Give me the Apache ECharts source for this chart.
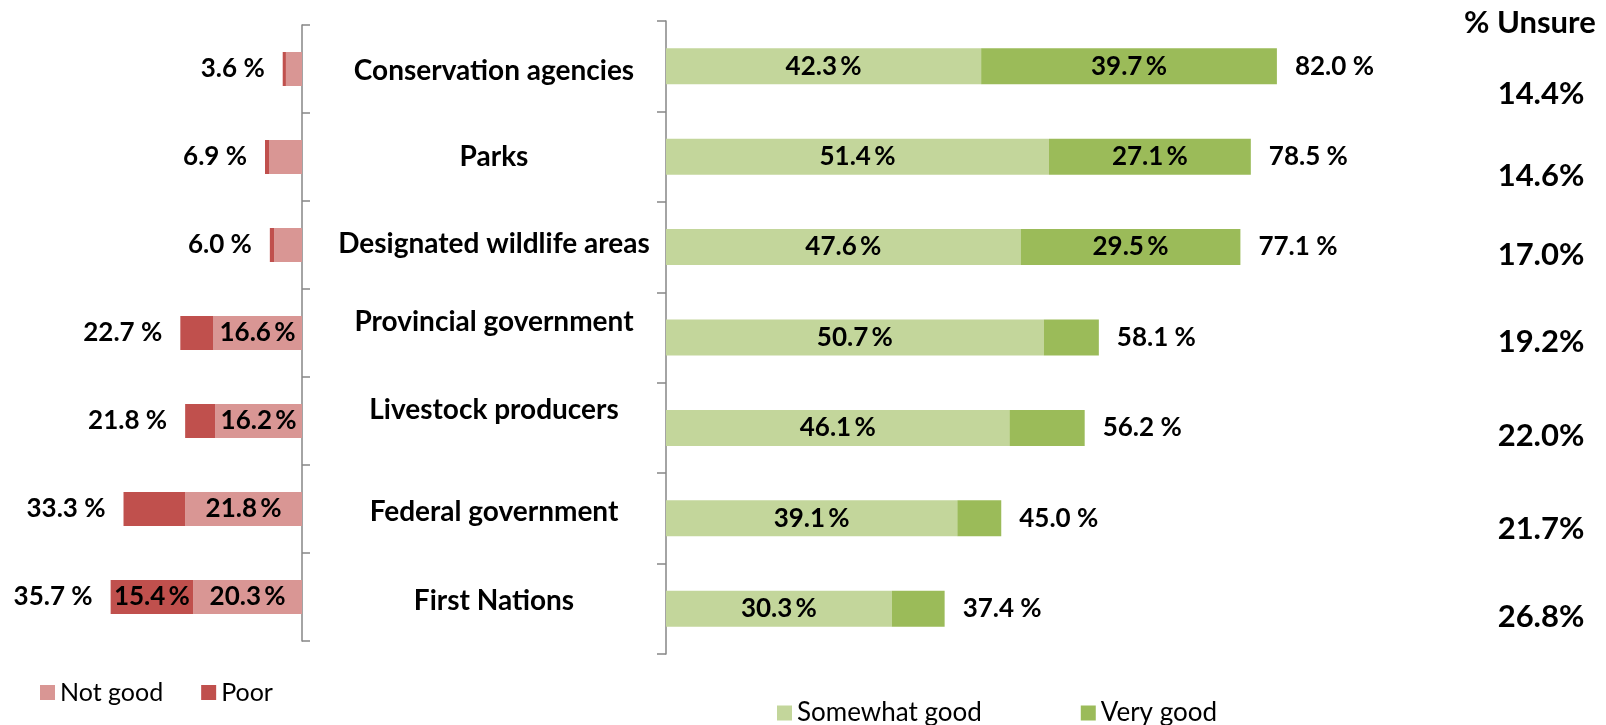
<!DOCTYPE html>
<html><head><meta charset="utf-8">
<script src="https://cdn.jsdelivr.net/npm/echarts@6/dist/echarts.min.js"></script>
<style>html,body{margin:0;padding:0;background:#fff}#c{width:1606px;height:725px}</style>
</head><body><div id="c"></div>
<script>
// ---- data ----
const categories = ['Conservation agencies','Parks','Designated wildlife areas','Provincial government','Livestock producers','Federal government','First Nations'];
const notGood = [3.0, 6.1, 5.2, 16.6, 16.2, 21.8, 20.3];
const poor = [0.6, 0.8, 0.8, 6.1, 5.6, 11.5, 15.4];
const negativeTotal = [3.6, 6.9, 6.0, 22.7, 21.8, 33.3, 35.7];
const somewhatGood = [42.3, 51.4, 47.6, 50.7, 46.1, 39.1, 30.3];
const veryGood = [39.7, 27.1, 29.5, 7.4, 10.1, 5.9, 7.1];
const positiveTotal = [82.0, 78.5, 77.1, 58.1, 56.2, 45.0, 37.4];
const unsure = [14.4, 14.6, 17.0, 19.2, 22.0, 21.7, 26.8];
const unsureHeader = '% Unsure';

// ---- styling ----
const FONT = 'Lato';
const AXIS_COLOR = '#868686';
const labelShift = [5, 0, -3, -16, -18, -6, -8];   // visual nudges of category names
const unsureShift = [0, -5, -13, -13, -6, 0, 1];
const inner = v => v.toFixed(1) + '\u2009%';
const outer = v => v.toFixed(1) + ' %';
const lblBase = {fontFamily: FONT, fontWeight: 'bold', fontSize: 26, color: '#000', textBorderWidth: 0};

const chart = echarts.init(document.getElementById('c'), null, {renderer: 'canvas'});

const catRich = {};
labelShift.forEach((s, i) => {
  catRich['c' + i] = {
    fontFamily: FONT, fontWeight: 'bold', fontSize: 28, color: '#000',
    width: 320, align: 'center',
    padding: s > 0 ? [2 * s, 0, 0, 0] : [0, 0, -2 * s, 0]
  };
});

const option = {
  animation: false,
  backgroundColor: '#fff',
  title: {
    text: unsureHeader, left: 1459, top: 2,
    textStyle: {fontFamily: FONT, fontWeight: 'bold', fontSize: 31, color: '#000'}
  },
  legend: [
    {data: ['Not good', 'Poor'], left: 35, top: 675, icon: 'rect', itemWidth: 15, itemHeight: 15, itemGap: 38,
     textStyle: {fontFamily: FONT, fontSize: 25, color: '#000'}},
    {data: ['Somewhat good', 'Very good'], left: 772, top: 695, icon: 'rect', itemWidth: 15, itemHeight: 15, itemGap: 99,
     textStyle: {fontFamily: FONT, fontSize: 26, color: '#000'}}
  ],
  grid: [
    {left: 34, width: 268, top: 25, height: 616},
    {left: 666, width: 745, top: 21, height: 633},
    {left: 1531, width: 20, top: 50, height: 610}
  ],
  xAxis: [
    {gridIndex: 0, type: 'value', min: 0, max: 50, inverse: true, show: false},
    {gridIndex: 1, type: 'value', min: 0, max: 100, show: false},
    {gridIndex: 2, type: 'value', min: 0, max: 1, show: false}
  ],
  yAxis: [
    {gridIndex: 0, type: 'category', data: categories, inverse: true, position: 'right',
     axisLine: {show: true, lineStyle: {color: AXIS_COLOR, width: 1.5}},
     axisTick: {show: true, length: 8, lineStyle: {color: AXIS_COLOR, width: 1.5}},
     axisLabel: {show: false}, splitLine: {show: false}},
    {gridIndex: 1, type: 'category', data: categories, inverse: true, position: 'left',
     axisLine: {show: true, lineStyle: {color: AXIS_COLOR, width: 1.5}},
     axisTick: {show: true, length: 9, lineStyle: {color: AXIS_COLOR, width: 1.5}},
     axisLabel: {margin: 12, formatter: (v, i) => '{c' + i + '|' + v + '}', rich: catRich},
     splitLine: {show: false}},
    {gridIndex: 2, type: 'category', data: categories, inverse: true, show: false}
  ],
  series: [
    {name: 'Not good', type: 'bar', xAxisIndex: 0, yAxisIndex: 0, stack: 'neg', barWidth: 34, barGap: '-100%',
     data: notGood, itemStyle: {color: '#D99694'},
     label: Object.assign({show: true, position: 'inside', formatter: p => p.value > 15 ? inner(p.value) : ''}, lblBase)},
    {name: 'Poor', type: 'bar', xAxisIndex: 0, yAxisIndex: 0, stack: 'neg', barWidth: 34, barGap: '-100%',
     data: poor, itemStyle: {color: '#C0504D'},
     label: Object.assign({show: true, position: 'inside', formatter: p => p.value > 15 ? inner(p.value) : ''}, lblBase)},
    {name: 'Negative total', type: 'bar', xAxisIndex: 0, yAxisIndex: 0, barWidth: 34, barGap: '-100%', silent: true,
     data: negativeTotal, itemStyle: {color: 'rgba(0,0,0,0)'},
     label: Object.assign({show: true, position: 'left', distance: 18, formatter: p => outer(p.value)}, lblBase)},
    {name: 'Somewhat good', type: 'bar', xAxisIndex: 1, yAxisIndex: 1, stack: 'pos', barWidth: 36, barGap: '-100%',
     data: somewhatGood, itemStyle: {color: '#C3D69B'},
     label: Object.assign({show: true, position: 'inside', formatter: p => p.value > 15 ? inner(p.value) : ''}, lblBase)},
    {name: 'Very good', type: 'bar', xAxisIndex: 1, yAxisIndex: 1, stack: 'pos', barWidth: 36, barGap: '-100%',
     data: veryGood, itemStyle: {color: '#9BBB59'},
     label: Object.assign({show: true, position: 'inside', formatter: p => p.value > 15 ? inner(p.value) : ''}, lblBase)},
    {name: 'Positive total', type: 'bar', xAxisIndex: 1, yAxisIndex: 1, barWidth: 36, barGap: '-100%', silent: true,
     data: positiveTotal, itemStyle: {color: 'rgba(0,0,0,0)'},
     label: Object.assign({show: true, position: 'right', distance: 18, formatter: p => outer(p.value)}, lblBase)},
    {name: 'Unsure', type: 'scatter', xAxisIndex: 2, yAxisIndex: 2, symbolSize: 0, silent: true,
     itemStyle: {color: '#fff', opacity: 1},
     data: unsure.map((v, i) => ({value: [0.5, categories[i], v], label: {offset: [0, unsureShift[i]]}})),
     label: {show: true, position: 'inside', formatter: p => p.value[2].toFixed(1) + '%',
       fontFamily: FONT, fontWeight: 'bold', fontSize: 31, color: '#000', textBorderWidth: 0, opacity: 1}}
  ]
};
chart.setOption(option);
</script>
</body></html>
